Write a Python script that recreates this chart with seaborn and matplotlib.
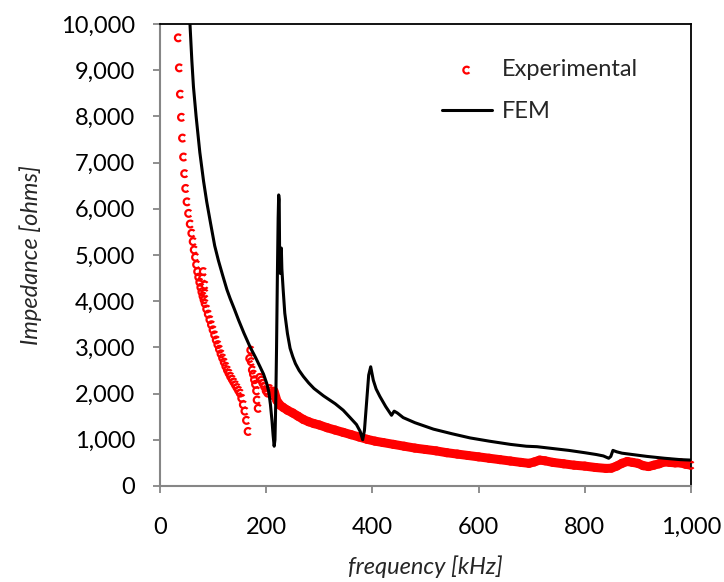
import matplotlib
matplotlib.use('Agg')
import matplotlib.pyplot as plt
import matplotlib.ticker as mticker
from matplotlib.path import Path
import seaborn as sns

# Experimental data: steep low-frequency part (sparse markers)
exp_low_f = [34.5, 36.5, 38.5, 40.5, 42.5, 44.5, 46.5, 48.5, 51, 54, 57, 60, 62.5, 64.5, 67, 69,
             71, 73, 75, 77, 79, 81, 83, 85, 88, 91, 94, 97, 100, 103, 106, 109, 112, 115, 118,
             121, 124, 127, 130, 133, 136, 139, 142, 145, 148, 151, 154, 157, 160, 163, 166,
             81.6, 80.4, 84.7, 84.7]
exp_low_v = [9700, 9050, 8480, 7980, 7530, 7120, 6760, 6440, 6150, 5900, 5670, 5470, 5290, 5110, 4950, 4790,
             4640, 4520, 4410, 4300, 4200, 4110, 4030, 3950, 3830, 3720, 3600, 3490, 3380, 3270, 3160, 3060,
             2960, 2860, 2770, 2680, 2590, 2510, 2440, 2370, 2310, 2250, 2190, 2130, 2070, 2010, 1900, 1760,
             1620, 1420, 1180,
             4640, 4500, 4350, 4170]

# second scattered branch around the first resonance
exp_mid_f = [169, 171, 172, 174, 176, 178, 180, 182, 183, 185, 188, 191, 194, 197, 200, 203, 206, 209, 212]
exp_mid_v = [2760, 2940, 2690, 2510, 2420, 2300, 2200, 2060, 1860, 1680, 2350, 2290, 2220, 2150, 2060, 2010,
             2110, 2060, 1960]

# dense high-frequency tail
exp_tail_f = [215, 220, 226, 232, 240, 250, 260, 270, 280, 290, 300, 315, 330, 345, 360, 375, 390, 405, 420,
              440, 460, 480, 500, 520, 540, 560, 580, 600, 620, 640, 660, 680, 695, 705, 715, 725, 740, 760,
              780, 800, 820, 840, 850, 860, 870, 880, 890, 900, 910, 920, 930, 940, 950, 960, 970, 980, 990, 1000]
exp_tail_v = [2050, 1850, 1750, 1700, 1640, 1580, 1510, 1440, 1390, 1350, 1320, 1260, 1210, 1160, 1110, 1060,
              1010, 970, 940, 900, 860, 820, 790, 760, 720, 690, 660, 630, 600, 570, 540, 510, 490, 520, 560,
              545, 510, 480, 450, 430, 400, 380, 385, 430, 490, 530, 510, 490, 440, 420, 450, 480, 520, 510,
              500, 500, 470, 450]

# FEM curve
fem_f = [56, 60, 63, 68, 75, 82, 88, 95, 103, 110, 118, 126, 132, 140, 148, 158, 170, 180, 188, 195, 201,
         205, 208, 211, 213, 215, 216.5, 218, 219.5, 221, 222.5, 223.5, 224.5, 225.5, 226.5, 227.5, 228.5,
         229.5, 232, 235, 240, 245, 250, 255, 262, 270, 280, 290, 308, 330, 345, 358, 370, 377, 381.7, 385,
         389, 393, 396.8, 401.7, 407, 414, 425, 436, 441, 447, 458, 480, 515, 550, 584, 620, 660, 690, 710,
         740, 770, 800, 822, 835, 845, 849, 853, 860, 870, 890, 917, 950, 980, 1000]
fem_v = [10100, 9200, 8640, 8000, 7220, 6600, 6150, 5700, 5200, 4880, 4560, 4250, 4060, 3830, 3590, 3310,
         3000, 2780, 2590, 2420, 2220, 2030, 1760, 1400, 1100, 860, 1000, 1800, 3000, 4500, 5800, 6300,
         6200, 4700, 4600, 5100, 5150, 4700, 4240, 3740, 3300, 2980, 2800, 2650, 2500, 2370, 2230, 2110,
         1950, 1780, 1640, 1480, 1330, 1180, 1000, 1200, 1800, 2400, 2580, 2290, 2100, 1940, 1720, 1530,
         1620, 1580, 1480, 1370, 1230, 1130, 1040, 970, 900, 860, 850, 810, 770, 720, 680, 650, 600, 640,
         770, 740, 710, 680, 640, 600, 570, 560]

sns.set_style('white')
plt.rcParams['font.family'] = ['Lato', 'DejaVu Sans']

fig, ax = plt.subplots(figsize=(7.24, 5.82), dpi=100)
fig.subplots_adjust(left=0.221, right=0.9544, top=0.9588, bottom=0.165)

c_marker = Path.arc(40, 320)
exp_f = exp_low_f + exp_mid_f + exp_tail_f
exp_v = exp_low_v + exp_mid_v + exp_tail_v

# thick band for the dense tail, then the markers on top
sns.lineplot(x=exp_tail_f, y=exp_tail_v, color='red', linewidth=6.5, sort=False,
             estimator=None, ax=ax, legend=False)
sns.scatterplot(x=exp_f, y=exp_v, marker=c_marker, s=24, facecolor='none', edgecolor='red',
                linewidth=1.6, ax=ax, label='Experimental', zorder=3, clip_on=False)
sns.lineplot(x=fem_f, y=fem_v, color='black', linewidth=2.2, sort=False, estimator=None,
             ax=ax, label='FEM', zorder=4)

ax.set_xlim(0, 1000)
ax.set_ylim(0, 10000)
ax.set_xticks(range(0, 1001, 200))
ax.set_yticks(range(0, 10001, 1000))
ax.xaxis.set_major_formatter(mticker.StrMethodFormatter('{x:,.0f}'))
ax.yaxis.set_major_formatter(mticker.StrMethodFormatter('{x:,.0f}'))

for side in ['left', 'bottom']:
    ax.spines[side].set_color('#868686')
    ax.spines[side].set_linewidth(1.5)
for side in ['top', 'right']:
    ax.spines[side].set_color('black')
    ax.spines[side].set_linewidth(1.3)
ax.spines['top'].set_zorder(5)

ax.tick_params(axis='both', which='major', direction='out', length=5, width=1.3,
               color='#868686', labelsize=17, labelcolor='black')
ax.tick_params(axis='y', pad=13)
ax.tick_params(axis='x', pad=17.5)
ax.tick_params(left=True, bottom=True)

ax.set_xlabel('frequency [kHz]', fontsize=17, fontstyle='italic', labelpad=12)
ax.set_ylabel('Impedance [ohms]', fontsize=17, fontstyle='italic', labelpad=13.5)

ax.legend(loc='upper left', bbox_to_anchor=(0.531, 0.9235), frameon=False, fontsize=17,
          borderaxespad=0, borderpad=0, handlelength=2.1, handletextpad=0.45,
          labelspacing=0.88, scatterpoints=1)

plt.savefig('out.png', dpi=100)
